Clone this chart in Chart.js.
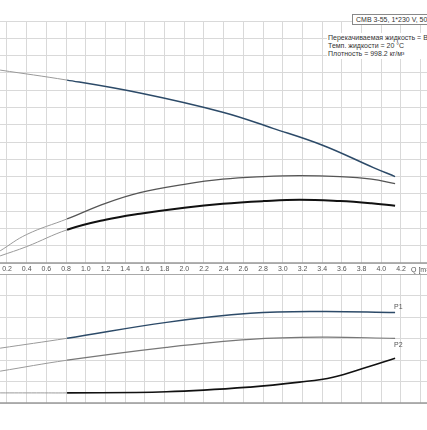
<!DOCTYPE html>
<html><head><meta charset="utf-8">
<script src="https://cdn.jsdelivr.net/npm/chart.js@4/dist/chart.umd.min.js"></script>
<style>
body{margin:0;background:#fff;width:427px;height:430px;overflow:hidden;position:relative;font-family:Arial,"Liberation Sans",sans-serif}
#top{position:absolute;left:0;top:0}
#bot{position:absolute;left:0;top:274px}
.info{position:absolute;font-size:7px;color:#333;white-space:nowrap;background:#fff}
</style></head><body>
<canvas id="top" width="427" height="274"></canvas>
<canvas id="bot" width="427" height="156"></canvas>
<div class="info" style="left:352px;top:14px;border:1px solid #888;padding:1px 3px">CMB 3-55, 1*230 V, 50Hz</div>
<div class="info" style="left:327px;top:33px;line-height:8px;padding:1px">Перекачиваемая жидкость = Вода<br>Темп. жидкости = 20 °C<br>Плотность = 998.2 кг/м³</div>
<script>
// flow Q [m3/h] and curve values in grid units
const qH = [0.13, 0.81, 1.55, 2.39, 2.90, 3.41, 3.92, 4.14];
const head = [11.16, 10.58, 9.83, 8.72, 7.79, 6.80, 5.52, 5.0];
const qE = [0.13, 0.40, 0.81, 1.20, 1.55, 2.00, 2.39, 2.80, 3.17, 3.58, 3.90, 4.14];
const effTotal = [0.70, 1.65, 2.55, 3.45, 4.07, 4.55, 4.85, 5.00, 5.06, 5.00, 4.85, 4.59];
const effPump = [0.41, 0.95, 1.92, 2.50, 2.85, 3.20, 3.43, 3.58, 3.66, 3.58, 3.45, 3.31];
const qP = [0.13, 0.81, 1.82, 2.67, 3.38, 4.14];
const p1 = [2.55, 3.01, 3.75, 4.17, 4.26, 4.21];
const p2 = [1.48, 1.99, 2.59, 2.96, 3.06, 3.01];
const qN = [0.13, 0.50, 0.81, 1.82, 2.67, 3.17, 3.51, 3.86, 4.14];
const npsh = [0.47, 0.47, 0.47, 0.52, 0.74, 0.97, 1.20, 1.67, 2.08];
const xTicks = [0.2,0.4,0.6,0.8,1.0,1.2,1.4,1.6,1.8,2.0,2.2,2.4,2.6,2.8,3.0,3.2,3.4,3.6,3.8,4.0,4.2];

const XMIN = 0.129, XMAX = 4.464;
const pts = (xs, ys) => xs.map((x, i) => ({x: x, y: ys[i]}));
function ds(xs, ys, color, w) {
  return {data: pts(xs, ys), borderColor: color, borderWidth: w, pointRadius: 0, tension: 0.4,
    segment: {
      borderColor: c => c.p0.parsed.x < 0.8 ? '#9a9a9a' : color,
      borderWidth: c => c.p0.parsed.x < 0.8 ? 1 : w
    }};
}
const gridC = '#d9d9d9';
function xScale(showTicks) {
  return {type: 'linear', min: XMIN, max: XMAX,
    afterBuildTicks: s => { s.ticks = xTicks.concat([4.4]).map(v => ({value: v})); },
    grid: {color: gridC, drawTicks: false},
    border: {display: false},
    ticks: {display: showTicks, padding: 2, color: '#555', font: {size: 7},
      callback: v => v > 4.3 ? '' : v.toFixed(1)},
    afterFit: s => { s.height = showTicks ? 11 : 0; }};
}
function yScale(max) {
  return {min: 0, max: max, ticks: {display: false, stepSize: 1}, grid: {color: gridC, drawTicks: false},
    border: {display: false}, afterFit: s => { s.width = 0; }};
}
const frame = {
  id: 'frame',
  afterDraw(chart, args, opts) {
    const a = chart.chartArea, c = chart.ctx;
    c.save();
    c.strokeStyle = '#999'; c.lineWidth = 1.5;
    c.beginPath();
    opts.lines.forEach(y => { const yy = y === 'top' ? a.top : a.bottom; c.moveTo(0, yy); c.lineTo(427, yy); });
    c.stroke();
    c.fillStyle = '#555'; c.font = '7px Arial';
    (opts.labels || []).forEach(l => {
      c.fillText(l.t, chart.scales.x.getPixelForValue(l.x), chart.scales.y.getPixelForValue(l.y));
    });
    if (opts.qLabel) c.fillText('Q [m³/h]', 411, a.bottom + 9);
    c.restore();
  }
};
const common = {responsive: false, animation: false, plugins: {legend: {display: false}, tooltip: {enabled: false}}};

new Chart(document.getElementById('top'), {
  type: 'line',
  data: {datasets: [
    ds(qH, head, '#2c4a68', 1.5),
    ds(qE, effTotal, '#555', 1.3),
    ds(qE, effPump, '#111', 2)
  ]},
  options: Object.assign({}, common, {
    layout: {padding: {top: 21, left: 0, right: 0, bottom: 0}},
    scales: {x: xScale(true), y: yScale(14)},
    plugins: Object.assign({}, common.plugins, {frame: {lines: ['bottom'], qLabel: true}})
  }),
  plugins: [frame]
});

new Chart(document.getElementById('bot'), {
  type: 'line',
  data: {datasets: [
    ds(qP, p1, '#2c4a68', 1.5),
    ds(qP, p2, '#777', 1.2),
    ds(qN, npsh, '#111', 1.6)
  ]},
  options: Object.assign({}, common, {
    layout: {padding: {top: 0, left: 0, right: 0, bottom: 27}},
    scales: {x: xScale(false), y: yScale(6)},
    plugins: Object.assign({}, common.plugins, {frame: {lines: ['top', 'bottom'],
      labels: [{t: 'P1', x: 4.13, y: 4.35}, {t: 'P2', x: 4.13, y: 2.6}]}})
  }),
  plugins: [frame]
});
</script>
</body></html>
